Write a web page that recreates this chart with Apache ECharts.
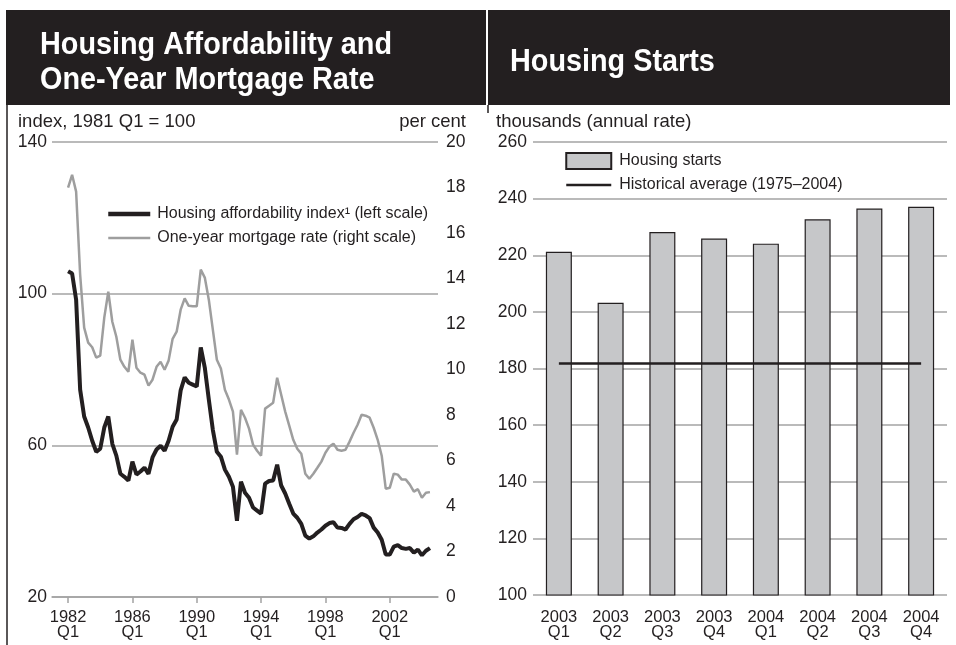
<!DOCTYPE html>
<html>
<head>
<meta charset="utf-8">
<script src="https://cdn.jsdelivr.net/npm/echarts@6/dist/echarts.min.js"></script>
<style>
html, body { margin: 0; padding: 0; background: #fff; }
#chart { width: 956px; height: 645px; }
</style>
</head>
<body>
<div id="chart"></div>
<script>
// quarterly categories, 1981 Q1 .. 2005 Q1
var quarters = [];
for (var y = 1981; y <= 2005; y++) {
    for (var q = 1; q <= 4; q++) {
        if (y === 2005 && q > 1) break;
        quarters.push(y + '\nQ' + q);
    }
}
var firstDataQuarter = '1982\nQ1';

// housing affordability index (left scale), 1982 Q1 onwards
var affordability = [
    105.9, 105.3, 98.4, 74.7, 67.6, 64.7, 61.2, 58.3, 59.1, 64.7,
    67.6, 60.4, 57.3, 52.5, 51.7, 50.7, 55.7, 52.3, 53.1, 54.1,
    52.5, 56.8, 58.9, 59.9, 58.6, 61.2, 64.9, 66.8, 74.5, 77.9,
    76.5, 76.0, 75.5, 85.8, 80.5, 72.1, 64.1, 58.3, 57.0, 53.6,
    51.7, 49.1, 40.1, 50.4, 47.5, 46.2, 43.6, 42.8, 42.0, 49.9,
    50.6, 50.7, 54.9, 49.4, 47.3, 44.6, 42.0, 40.9, 39.3, 36.2,
    35.4, 36.0, 37.0, 37.8, 38.8, 39.5, 39.7, 38.3, 38.2, 37.8,
    39.3, 40.5, 41.1, 41.9, 41.5, 40.8, 38.3, 37.0, 35.1, 31.2,
    31.2, 33.3, 33.7, 32.9, 32.7, 32.9, 31.7, 32.5, 31.0, 32.2, 32.9
];

// one-year mortgage rate, per cent (right scale), 1982 Q1 onwards
var mortgageRate = [
    17.99, 18.56, 17.82, 14.17, 11.84, 11.18, 10.98, 10.52, 10.61, 12.28,
    13.42, 12.10, 11.44, 10.43, 10.12, 9.90, 11.31, 10.08, 9.86, 9.77,
    9.29, 9.55, 10.12, 10.34, 9.99, 10.39, 11.35, 11.66, 12.63, 13.13,
    12.80, 12.78, 12.78, 14.39, 14.04, 13.07, 11.75, 10.43, 10.04, 9.11,
    8.68, 8.15, 6.26, 8.23, 7.88, 7.40, 6.70, 6.43, 6.21, 8.28,
    8.41, 8.54, 9.64, 8.89, 8.15, 7.53, 6.91, 6.52, 6.30, 5.42,
    5.20, 5.42, 5.68, 5.95, 6.34, 6.61, 6.74, 6.47, 6.43, 6.47,
    6.83, 7.22, 7.57, 8.01, 7.97, 7.88, 7.44, 6.91, 6.21, 4.76,
    4.80, 5.42, 5.38, 5.16, 5.16, 4.94, 4.63, 4.74, 4.36, 4.58, 4.61
];

// housing starts, thousands (annual rate)
var startQuarters = ['2003\nQ1', '2003\nQ2', '2003\nQ3', '2003\nQ4', '2004\nQ1', '2004\nQ2', '2004\nQ3', '2004\nQ4'];
var housingStarts = [221.2, 203.2, 228.2, 225.9, 224.1, 232.7, 236.5, 237.1];
var historicalAverage = 181.8;

var offset = quarters.indexOf(firstDataQuarter);
function pairs(values) {
    return values.map(function (v, i) { return [quarters[offset + i], v]; });
}
function yearTick(idx) {
    return idx >= 4 && (idx - 4) % 16 === 0;
}

var ink = '#231f20';
var grey = '#a3a3a3';
var lineGrey = '#9e9e9e';
var textFont = "'Liberation Sans', Arial, sans-serif";
var headFont = "bold 32px 'Liberation Sans', Arial, sans-serif";

var myChart = echarts.init(document.getElementById('chart'));

function headText(str, x, y) {
    return {
        type: 'text', x: x, y: y, scaleX: 0.9, z: 10,
        style: { text: str, font: headFont, fill: '#fff', textVerticalAlign: 'middle' }
    };
}

option = {
    animation: false,
    textStyle: { fontFamily: textFont, color: ink },
    graphic: [
        { type: 'rect', shape: { x: 6, y: 10, width: 944, height: 95 }, style: { fill: ink }, z: 0 },
        { type: 'rect', shape: { x: 486, y: 10, width: 2, height: 95 }, style: { fill: '#fff' }, z: 1 },
        { type: 'line', shape: { x1: 7, y1: 105, x2: 7, y2: 645 }, style: { stroke: ink, lineWidth: 1.5 } },
        { type: 'line', shape: { x1: 488, y1: 105, x2: 488, y2: 113 }, style: { stroke: ink, lineWidth: 1.5 } },
        headText('Housing Affordability and', 40, 45),
        headText('One-Year Mortgage Rate', 40, 80),
        headText('Housing Starts', 510, 62)
    ],
    title: [
        {
            text: 'index, 1981 Q1 = 100', left: 18, top: 112, padding: 0,
            textStyle: { color: ink, fontFamily: textFont, fontWeight: 'normal', fontSize: 18.5 }
        },
        {
            text: 'per cent', right: 490, top: 112, padding: 0,
            textStyle: { color: ink, fontFamily: textFont, fontWeight: 'normal', fontSize: 18.5 }
        },
        {
            text: 'thousands (annual rate)', left: 496, top: 112, padding: 0,
            textStyle: { color: ink, fontFamily: textFont, fontWeight: 'normal', fontSize: 18.5 }
        }
    ],
    legend: [
        {
            left: 106, top: 206, orient: 'vertical', padding: 0,
            itemWidth: 42, itemHeight: 14, itemGap: 8,
            textStyle: { fontSize: 16, color: ink, padding: [0, 0, 0, 2] },
            data: [
                { name: 'Housing affordability index¹ (left scale)', itemStyle: { opacity: 0 }, lineStyle: { width: 4.5 } },
                { name: 'One-year mortgage rate (right scale)', itemStyle: { opacity: 0 }, lineStyle: { width: 2.5 } }
            ]
        },
        {
            left: 565, top: 152, orient: 'vertical', padding: 0,
            itemWidth: 45, itemHeight: 16, itemGap: 7,
            textStyle: { fontSize: 16, color: ink, padding: [0, 0, 0, 3] },
            data: [
                { name: 'Housing starts', icon: 'rect' },
                { name: 'Historical average (1975–2004)', itemStyle: { opacity: 0 }, lineStyle: { width: 2.5 } }
            ]
        }
    ],
    grid: [
        { left: 52, top: 142, width: 386, height: 455 },
        { left: 533, top: 142, width: 414, height: 453 }
    ],
    xAxis: [
        {
            type: 'category', gridIndex: 0, data: quarters, boundaryGap: false,
            axisLine: { lineStyle: { color: grey, width: 1.5 } },
            axisTick: { interval: yearTick, length: 6, lineStyle: { color: grey, width: 1.5 } },
            axisLabel: { interval: yearTick, fontSize: 16.5, lineHeight: 15, color: ink, margin: 13 }
        },
        {
            type: 'category', gridIndex: 1, data: startQuarters,
            axisLine: { show: false },
            axisTick: { show: false },
            axisLabel: { fontSize: 16.5, lineHeight: 15, color: ink, margin: 15 }
        }
    ],
    yAxis: [
        {
            type: 'value', gridIndex: 0, min: 20, max: 140, interval: 40,
            axisLine: { show: false }, axisTick: { show: false },
            axisLabel: { fontSize: 17.5, color: ink, margin: 5 },
            splitLine: { lineStyle: { color: grey, width: 1.5 } }
        },
        {
            type: 'value', gridIndex: 0, position: 'right', min: 0, max: 20, interval: 2,
            axisLine: { show: false }, axisTick: { show: false },
            axisLabel: { fontSize: 17.5, color: ink, margin: 8 },
            splitLine: { show: false }
        },
        {
            type: 'value', gridIndex: 1, min: 100, max: 260, interval: 20,
            axisLine: { show: false }, axisTick: { show: false },
            axisLabel: { fontSize: 17.5, color: ink, margin: 6 },
            splitLine: { lineStyle: { color: grey, width: 1.5 } }
        }
    ],
    series: [
        {
            name: 'One-year mortgage rate (right scale)',
            type: 'line', xAxisIndex: 0, yAxisIndex: 1,
            data: pairs(mortgageRate),
            symbol: 'none',
            itemStyle: { color: lineGrey },
            lineStyle: { color: lineGrey, width: 2.5 }
        },
        {
            name: 'Housing affordability index¹ (left scale)',
            type: 'line', xAxisIndex: 0, yAxisIndex: 0,
            data: pairs(affordability),
            symbol: 'none',
            itemStyle: { color: ink },
            lineStyle: { color: ink, width: 4 }
        },
        {
            name: 'Housing starts',
            type: 'bar', xAxisIndex: 1, yAxisIndex: 2,
            data: housingStarts,
            barWidth: 26,
            itemStyle: { color: '#c6c7c9', borderColor: ink, borderWidth: 1.2 }
        },
        {
            name: 'Historical average (1975–2004)',
            type: 'line', xAxisIndex: 1, yAxisIndex: 2,
            data: startQuarters.map(function () { return historicalAverage; }),
            symbol: 'none',
            itemStyle: { color: ink },
            lineStyle: { color: ink, width: 2.5 },
            z: 5
        }
    ]
};

myChart.setOption(option);
</script>
</body>
</html>
